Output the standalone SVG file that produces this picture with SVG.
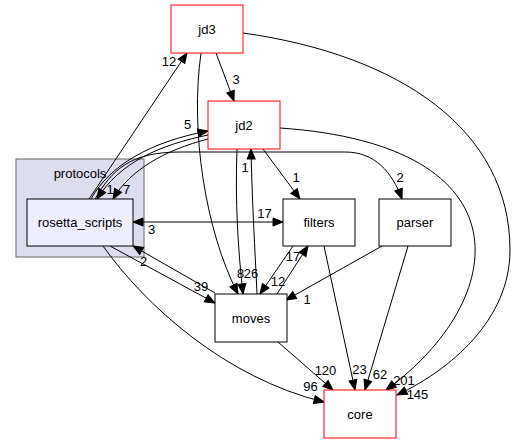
<svg xmlns="http://www.w3.org/2000/svg" width="519" height="444" viewBox="0 0 519 444">
<defs>
<marker id="ah" markerUnits="userSpaceOnUse" markerWidth="12" markerHeight="10" refX="10" refY="4" orient="auto-start-reverse" overflow="visible">
<path d="M0,0 L10,4 L0,8 z" fill="#000" stroke="#000" stroke-width="1"/>
</marker>
<style>
.e{fill:none;stroke:#000;stroke-width:1;marker-end:url(#ah)}
.b{marker-start:url(#ah)}
text{font-family:"Liberation Sans",Arial,sans-serif;font-size:13px;fill:#000}
.n text,.c text{text-anchor:middle}
.l{text-anchor:middle}
.red{fill:#fff;stroke:#ff0000;stroke-width:1}
.blk{fill:#fff;stroke:#000;stroke-width:1}
</style>
</defs>
<rect width="519" height="444" fill="#fff"/>
<g id="cluster_protocols" class="c">
<rect x="16" y="159" width="128" height="98" fill="#ddddee" stroke="#666666"/>
<text x="80" y="178">protocols</text>
</g>
<g id="connectors">
<text class="l" x="110" y="194">1</text>
<path class="e" d="M89,199 L187,53"/>
<path class="e" d="M91,199 C110,165 150,142 208,131"/>
<path class="e" d="M208,135 C160,145 120,162 97,199"/>
<path class="e" d="M95,199 C112,170 130,152 180,152 L345,152 C375,152 392,172 402,199"/>
<path class="e" d="M208,139 C165,150 130,170 113,199"/>
<path class="e" d="M216,53 L234,101"/>
<path class="e" d="M201,53 C190,130 205,230 238,294"/>
<path class="e" d="M237,149 C235,200 238,250 243,294"/>
<path class="e" d="M257,294 C255,250 252,200 251,149"/>
<path class="e" d="M263,149 L300,199"/>
<path class="e b" d="M133,222 L283,222"/>
<path class="e" d="M277,294 L308,246"/>
<path class="e" d="M293,246 L260,294"/>
<path class="e" d="M382,246 L286,300"/>
<path class="e" d="M408,246 L365,390"/>
<path class="e" d="M324,246 L355,390"/>
<path class="e" d="M278,342 L333,390"/>
<path class="e" d="M103,246 C145,305 225,378 324,402"/>
<path class="e" d="M110,246 L215,303"/>
<path class="e" d="M215,293 L133,246"/>
<path class="e" d="M280,128 C530,145 510,300 386,390"/>
<path class="e" d="M243,33 C400,55 510,130 510,250 C510,320 450,370 397,395"/>
<text class="l" x="169" y="66">12</text>
<text class="l" x="236" y="84">3</text>
<text class="l" x="187.5" y="129">5</text>
<text class="l" x="126.5" y="194">7</text>
<text class="l" x="296" y="182">1</text>
<text class="l" x="400" y="182">2</text>
<text class="l" x="245" y="172">1</text>
<text class="l" x="264.5" y="218">17</text>
<text class="l" x="151.5" y="234">3</text>
<text class="l" x="240.5" y="278">8</text>
<text class="l" x="251" y="278">26</text>
<text class="l" x="293" y="261">17</text>
<text class="l" x="278" y="286">12</text>
<text class="l" x="307" y="304">1</text>
<text class="l" x="201" y="291">39</text>
<text class="l" x="143.5" y="266">2</text>
<text class="l" x="325.5" y="375">120</text>
<text class="l" x="359.5" y="373.5">23</text>
<text class="l" x="380" y="379">62</text>
<text class="l" x="310.5" y="391">96</text>
<text class="l" x="404" y="385">201</text>
<text class="l" x="417.5" y="398.5">145</text>
</g>
<g id="rosetta_scripts" class="n">
<rect x="27" y="199" width="106" height="47" fill="#eeeeff" stroke="#000"/>
<text x="80" y="227">rosetta_scripts</text>
</g>
<g id="jd3" class="n">
<rect class="red" x="171" y="5" width="72" height="48"/>
<text x="207" y="34">jd3</text>
</g>
<g id="jd2" class="n">
<rect class="red" x="208" y="101" width="72" height="48"/>
<text x="244" y="130">jd2</text>
</g>
<g id="filters" class="n">
<rect class="blk" x="283" y="199" width="72" height="47"/>
<text x="319" y="227">filters</text>
</g>
<g id="parser" class="n">
<rect class="blk" x="379" y="199" width="72" height="47"/>
<text x="415" y="227">parser</text>
</g>
<g id="moves" class="n">
<rect class="blk" x="215" y="294" width="72" height="48"/>
<text x="251" y="323">moves</text>
</g>
<g id="core" class="n">
<rect class="red" x="324" y="390" width="72" height="48"/>
<text x="360" y="419">core</text>
</g>
</svg>
